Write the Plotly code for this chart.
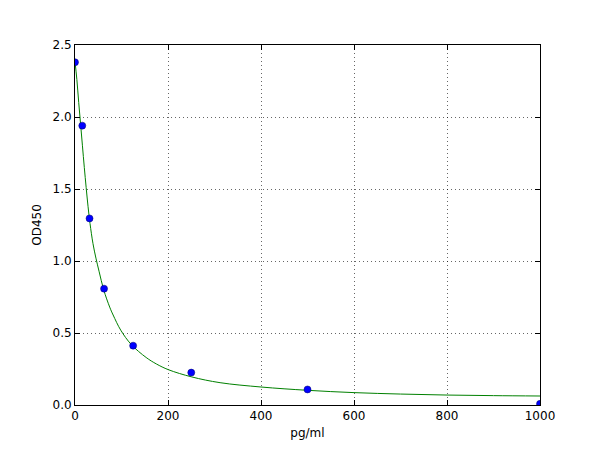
import plotly.graph_objects as go

# standard points (concentration vs OD)
conc = [0, 15.6, 31.25, 62.5, 125, 250, 500, 1000]
od = [2.38, 1.94, 1.296, 0.808, 0.412, 0.225, 0.108, 0.008]

# fitted curve
curve_x = [0, 4, 8, 12, 16, 20, 24, 28, 32.3, 38.7, 45, 52, 61.7, 74.6, 82,
           98.3, 121, 153, 175, 201, 251, 312, 400, 500, 600, 700, 800, 900, 1000]
curve_y = [2.385, 2.26, 2.10, 1.95, 1.80, 1.65, 1.51, 1.38, 1.26, 1.12, 1.02,
           0.925, 0.80, 0.68, 0.625, 0.52, 0.42, 0.33, 0.285, 0.245, 0.195,
           0.155, 0.125, 0.102, 0.086, 0.076, 0.069, 0.065, 0.0625]

x_ticks = [0, 200, 400, 600, 800, 1000]
y_ticks = [0.0, 0.5, 1.0, 1.5, 2.0, 2.5]

fig = go.Figure()

fig.add_trace(go.Scatter(
    x=curve_x, y=curve_y,
    mode="lines",
    line=dict(color="#008000", width=1, shape="spline", smoothing=1.0),
    hoverinfo="skip",
))

fig.add_trace(go.Scatter(
    x=conc, y=od,
    mode="markers",
    marker=dict(color="#0000ff", size=7, line=dict(color="#000066", width=0.5)),
))

axis_style = dict(
    showline=True, linecolor="black", linewidth=1, mirror="allticks",
    ticks="inside", ticklen=5, tickcolor="black",
    # matplotlib-style fine dotted grid
    showgrid=True, gridcolor="rgba(0,0,0,0.6)", griddash="1px,3px", gridwidth=1,
    zeroline=False,
    tickfont=dict(family="DejaVu Sans", size=12, color="black"),
)

fig.update_xaxes(
    range=[0, 1000], tickvals=x_ticks, ticktext=[str(v) for v in x_ticks],
    title=dict(text="pg/ml", font=dict(family="DejaVu Sans", size=12, color="black"),
               standoff=6),
    **axis_style,
)
fig.update_yaxes(
    range=[0, 2.5], tickvals=y_ticks, ticktext=[f"{v:.1f}" for v in y_ticks],
    title=dict(text="OD450", font=dict(family="DejaVu Sans", size=12, color="black"),
               standoff=8),
    **axis_style,
)

# page body adds an 8px offset, so margins are shifted to compensate
fig.update_layout(
    width=600, height=450,
    margin=dict(l=67, r=68, t=37, b=53),
    plot_bgcolor="white", paper_bgcolor="white",
    showlegend=False,
)

fig.write_html("out.html")
